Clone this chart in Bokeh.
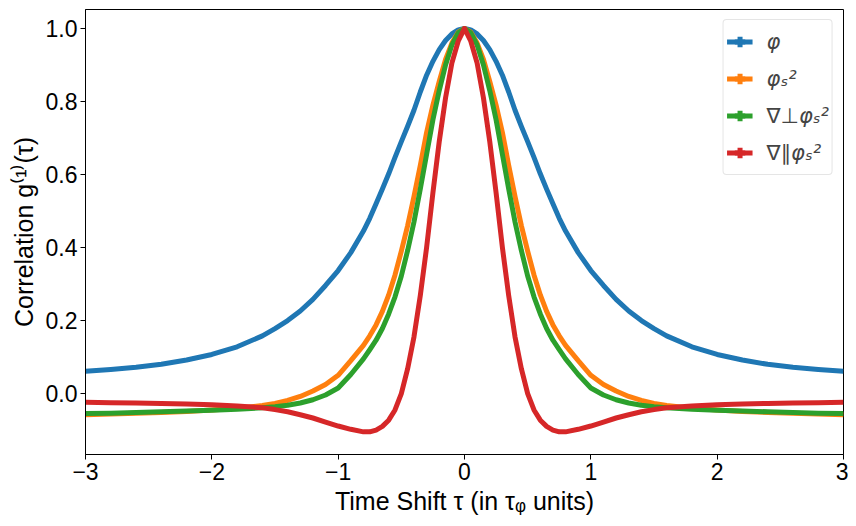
from bokeh.plotting import figure
from bokeh.models import Range1d, FixedTicker, Legend, LegendItem
from bokeh.embed import file_html
from bokeh.resources import INLINE

# time shift tau (in tau_phi units)
tau = [-3.0, -2.8, -2.6, -2.4, -2.2, -2.0, -1.8, -1.6, -1.5, -1.4, -1.3, -1.2, -1.1, -1.0,
       -0.9, -0.8, -0.75, -0.7, -0.65, -0.6, -0.55, -0.5, -0.45, -0.4, -0.35, -0.3, -0.25,
       -0.2, -0.15, -0.1, -0.05, 0.0, 0.05, 0.1, 0.15, 0.2, 0.25, 0.3, 0.35, 0.4, 0.45, 0.5,
       0.55, 0.6, 0.65, 0.7, 0.75, 0.8, 0.9, 1.0, 1.1, 1.2, 1.3, 1.4, 1.5, 1.6, 1.8, 2.0,
       2.2, 2.4, 2.6, 2.8, 3.0]

g_phi = [0.061, 0.066, 0.072, 0.080, 0.092, 0.107, 0.128, 0.158, 0.178, 0.200, 0.226, 0.258,
         0.296, 0.337, 0.386, 0.445, 0.48, 0.52, 0.56, 0.602, 0.647, 0.69, 0.732, 0.776, 0.826,
         0.872, 0.910, 0.942, 0.967, 0.985, 0.996, 1.0, 0.996, 0.985, 0.967, 0.942, 0.910,
         0.872, 0.826, 0.776, 0.732, 0.69, 0.647, 0.602, 0.56, 0.52, 0.48, 0.445, 0.386,
         0.337, 0.296, 0.258, 0.226, 0.200, 0.178, 0.158, 0.128, 0.107, 0.092, 0.080, 0.072,
         0.066, 0.061]

g_phis2 = [-0.058, -0.056, -0.054, -0.052, -0.049, -0.045, -0.040, -0.033, -0.027, -0.019,
           -0.008, 0.007, 0.025, 0.05, 0.09, 0.132, 0.158, 0.188, 0.225, 0.27, 0.325, 0.39,
           0.46, 0.54, 0.625, 0.715, 0.79, 0.855, 0.915, 0.96, 0.99, 1.0, 0.99, 0.96, 0.915,
           0.855, 0.79, 0.715, 0.625, 0.54, 0.46, 0.39, 0.325, 0.27, 0.225, 0.188, 0.158,
           0.132, 0.09, 0.05, 0.025, 0.007, -0.008, -0.019, -0.027, -0.033, -0.040, -0.045,
           -0.049, -0.052, -0.054, -0.056, -0.058]

g_perp = [-0.055, -0.054, -0.052, -0.050, -0.048, -0.046, -0.043, -0.039, -0.036, -0.032,
          -0.026, -0.017, -0.004, 0.015, 0.052, 0.095, 0.12, 0.146, 0.178, 0.218, 0.265,
          0.322, 0.392, 0.47, 0.56, 0.655, 0.75, 0.83, 0.9, 0.955, 0.988, 1.0, 0.988, 0.955,
          0.9, 0.83, 0.75, 0.655, 0.56, 0.47, 0.392, 0.322, 0.265, 0.218, 0.178, 0.146, 0.12,
          0.095, 0.052, 0.015, -0.004, -0.017, -0.026, -0.032, -0.036, -0.039, -0.043, -0.046,
          -0.048, -0.050, -0.052, -0.054, -0.055]

g_par = [-0.024, -0.025, -0.026, -0.027, -0.029, -0.031, -0.034, -0.039, -0.044, -0.050,
         -0.058, -0.067, -0.078, -0.089, -0.098, -0.105, -0.105, -0.10, -0.09, -0.073, -0.045,
         0.0, 0.068, 0.155, 0.268, 0.40, 0.55, 0.69, 0.81, 0.905, 0.965, 1.0, 0.965, 0.905,
         0.81, 0.69, 0.55, 0.40, 0.268, 0.155, 0.068, 0.0, -0.045, -0.073, -0.09, -0.10,
         -0.105, -0.105, -0.098, -0.089, -0.078, -0.067, -0.058, -0.050, -0.044, -0.039,
         -0.034, -0.031, -0.029, -0.027, -0.026, -0.025, -0.024]

series_labels = ["φ", "φₛ²", "∇⊥φₛ²", "∇∥φₛ²"]
series_colors = ["#1f77b4", "#ff7f0e", "#2ca02c", "#d62728"]

x_ticks = [-3, -2, -1, 0, 1, 2, 3]
x_tick_labels = ["−3", "−2", "−1", "0", "1", "2", "3"]
y_ticks = [0.0, 0.2, 0.4, 0.6, 0.8, 1.0]
y_tick_labels = ["0.0", "0.2", "0.4", "0.6", "0.8", "1.0"]

FONT = "Liberation Sans"

p = figure(frame_width=758, frame_height=445,
           x_range=Range1d(-3, 3), y_range=Range1d(-0.167, 1.052),
           output_backend="svg", toolbar_location=None,
           min_border_left=85, min_border_right=5, min_border_top=9, min_border_bottom=62)

p.grid.visible = False
p.outline_line_color = "black"
p.outline_line_width = 1
p.background_fill_color = "white"
p.border_fill_color = "white"

p.xaxis.ticker = FixedTicker(ticks=x_ticks)
p.xaxis.major_label_overrides = {t: l for t, l in zip(x_ticks, x_tick_labels)}
p.yaxis.ticker = FixedTicker(ticks=y_ticks)
p.yaxis.major_label_overrides = {t: l for t, l in zip(y_ticks, y_tick_labels)}

for ax in (p.xaxis, p.yaxis):
    ax.axis_line_color = "black"
    ax.major_tick_line_color = "black"
    ax.minor_tick_line_color = None
    ax.major_tick_in = 0
    ax.major_tick_out = 5
    ax.major_label_text_font = FONT
    ax.major_label_text_font_size = "23px"
    ax.major_label_text_color = "black"
    ax.axis_label_text_font = FONT
    ax.axis_label_text_font_size = "25px"
    ax.axis_label_text_font_style = "normal"
    ax.axis_label_text_color = "black"
    ax.major_label_standoff = 3

p.xaxis.axis_label = "Time Shift τ (in τᵩ units)"
p.yaxis.axis_label = "Correlation g⁽¹⁾(τ)"
p.xaxis.axis_label_standoff = 4
p.yaxis.axis_label_standoff = 5

items = []
for vals, lab, col in zip([g_phi, g_phis2, g_perp, g_par], series_labels, series_colors):
    lr = p.line(tau, vals, line_color=col, line_width=5, line_join="round")
    sr = p.scatter(tau, vals, marker="cross", size=0, line_color=col, line_width=5)
    items.append(LegendItem(label=lab, renderers=[lr, sr]))

legend = Legend(items=items, location="top_right")
legend.border_line_color = "#cccccc"
legend.border_line_width = 1
legend.background_fill_alpha = 0.8
legend.label_text_font = "DejaVu Sans"
legend.label_text_font_size = "21px"
legend.label_text_font_style = "italic"
legend.glyph_width = 26
legend.glyph_height = 37
legend.label_height = 37
legend.spacing = 0
legend.padding = 3
legend.margin = 10
legend.label_standoff = 14
try:
    legend.border_radius = 4
except Exception:
    pass
p.add_layout(legend)

open("out.html", "w").write(file_html(p, INLINE))
